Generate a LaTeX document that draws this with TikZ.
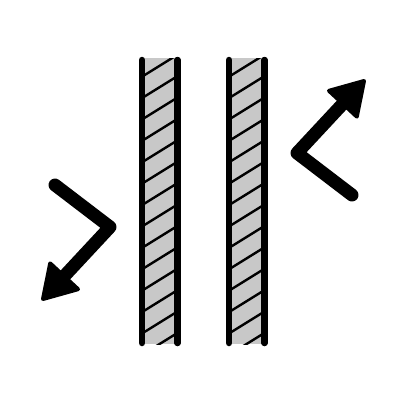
\documentclass[tikz,border=0pt]{standalone}
\begin{document}
\tikzset{
  platefill/.style={fill={rgb,255:red,200;green,200;blue,200}},
  hatchline/.style={draw=black,line width=2.4pt},
  plateedge/.style={draw=black,line width=6.5pt,line cap=round},
  shaft/.style={draw=black,line width=13pt,line cap=round,line join=round},
  headtri/.style={fill=black,draw=black,line width=4pt,line join=round}
}
\begin{tikzpicture}[x=1pt,y=-1pt]
\useasboundingbox (0,0) rectangle (400,400);
% plates
\foreach \xl in {142,229} {
  \begin{scope}
    \clip (\xl,58) rectangle ++(35.5,286);
    \fill[platefill] (\xl,58) rectangle ++(35.5,286);
    \foreach \k in {0,...,13} {
      \draw[hatchline] (\xl-5,{76.7+21.4*\k+3.1}) -- ++(45.5,-28.2);
    }
  \end{scope}
  \draw[plateedge] (\xl,60) -- (\xl,343);
  \draw[plateedge] (\xl+35.5,60) -- (\xl+35.5,343);
}
% left arrow
\coordinate (ls) at (55,185);
\coordinate (lc) at (110,227);
\coordinate (lb) at (64.1,276.3);
\draw[shaft] (ls) -- (lc) -- (lb);
\filldraw[headtri] (78,289.2) -- (43,299) -- (50.2,263.4) -- cycle;
% right arrow (point reflection)
\begin{scope}[rotate around={180:(203.5,190)}]
\coordinate (rs) at (55,185);
\coordinate (rc) at (110,227);
\coordinate (rb) at (64.1,276.3);
\draw[shaft] (rs) -- (rc) -- (rb);
\filldraw[headtri] (78,289.2) -- (43,299) -- (50.2,263.4) -- cycle;
\end{scope}
\end{tikzpicture}
\end{document}
